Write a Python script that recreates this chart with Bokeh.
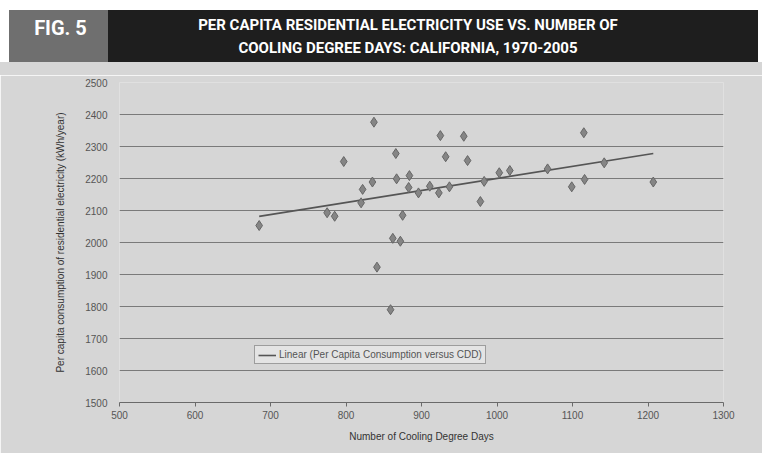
import numpy as np
from bokeh.plotting import figure
from bokeh.layouts import column
from bokeh.models import Range1d, Legend, LegendItem, SingleIntervalTicker, Div
from bokeh.embed import file_html
from bokeh.resources import INLINE

# Data
cdd = [685, 837, 925, 956, 866, 797, 932, 961, 1003, 1017, 867, 884, 835, 822,
       883, 896, 911, 923, 937, 983, 978, 820, 775, 785, 875, 862, 872, 841,
       859, 1115, 1067, 1142, 1116, 1099, 1207]
use = [2053, 2376, 2334, 2332, 2278, 2253, 2268, 2256, 2218, 2225, 2199, 2209,
       2189, 2166, 2172, 2155, 2176, 2155, 2174, 2191, 2128, 2124, 2093, 2082,
       2085, 2013, 2004, 1923, 1790, 2343, 2230, 2249, 2197, 2174, 2189]

title_line1 = "PER CAPITA RESIDENTIAL ELECTRICITY USE VS. NUMBER OF"
title_line2 = "COOLING DEGREE DAYS: CALIFORNIA, 1970-2005"
fig_label = "FIG. 5"
x_label = "Number of Cooling Degree Days"
y_label = "Per capita consumption of residential electricity (kWh/year)"
legend_label = "Linear (Per Capita Consumption versus CDD)"

BG = "#d6d6d6"
W = 762
BH = 75
H = 378
L, R, T, B = 119, 39, 7, 51

banner_html = f"""
<div style="position:relative;width:{W}px;height:{BH}px;background:white;margin:0;padding:0;">
  <div style="position:absolute;left:0;top:62px;width:{W}px;height:{BH - 62}px;background:{BG};"></div>
  <div style="position:absolute;left:9px;top:10px;width:99px;height:52px;background:#6f6f6f;
       color:white;font-family:Roboto;font-weight:bold;font-size:20px;
       display:flex;align-items:center;justify-content:center;padding-bottom:16px;padding-left:4px;box-sizing:border-box;">{fig_label}</div>
  <div style="position:absolute;left:108px;top:10px;width:650px;height:52px;background:#1e1e1e;
       color:white;font-family:Roboto;font-weight:bold;font-size:15px;line-height:23px;
       display:flex;flex-direction:column;align-items:center;justify-content:center;padding-right:50px;padding-top:2px;box-sizing:border-box;">
    <div>{title_line1}</div><div>{title_line2}</div></div>
</div>
"""
banner = Div(text=banner_html, width=W, height=BH, margin=0,
             styles={"padding": "0", "margin": "0"})

p = figure(width=W, height=H, output_backend="svg", toolbar_location=None,
           x_range=Range1d(500, 1300), y_range=Range1d(1500, 2500),
           min_border_left=L, min_border_right=R, min_border_top=T,
           min_border_bottom=B,
           background_fill_color=BG, border_fill_color=BG)
p.outline_line_color = None

p.xgrid.visible = False
p.ygrid.grid_line_color = "#7a7a7a"
p.ygrid.grid_line_width = 1
p.xaxis.ticker = SingleIntervalTicker(interval=100)
p.yaxis.ticker = SingleIntervalTicker(interval=100)
p.xaxis.minor_tick_line_color = None
p.yaxis.minor_tick_line_color = None
p.yaxis.axis_line_color = None
p.yaxis.major_tick_line_color = None
p.xaxis.axis_line_color = "#6a6a6a"
p.xaxis.major_tick_line_color = "#6a6a6a"
p.xaxis.major_tick_in = 0
p.xaxis.major_tick_out = 4
for ax in (p.xaxis, p.yaxis):
    ax.major_label_text_font = "Liberation Sans"
    ax.major_label_text_font_size = "10px"
    ax.major_label_text_color = "#555555"
    ax.axis_label_text_font = "Liberation Sans"
    ax.axis_label_text_font_style = "normal"
    ax.axis_label_text_color = "#333333"
p.xaxis.axis_label = x_label
p.xaxis.axis_label_text_font_size = "10px"
p.xaxis.axis_label_standoff = 9
p.xaxis.major_label_standoff = 4
p.yaxis.axis_label = y_label
p.yaxis.axis_label_text_font_size = "10px"
p.yaxis.axis_label_standoff = 16
p.yaxis.major_label_standoff = 6

# trend line from least squares fit
slope, intercept = np.polyfit(cdd, use, 1)
tx = [min(cdd), max(cdd)]
ty = [slope * v + intercept for v in tx]
trend = p.line(tx, ty, line_color="#555555", line_width=1.6)

p.scatter(cdd, use, marker="diamond", size=10, fill_color="#858585",
          line_color="#666666", line_width=1)

legend = Legend(items=[LegendItem(label=legend_label, renderers=[trend])],
                location=(135, 38), orientation="horizontal",
                background_fill_color="#e4e4e4", background_fill_alpha=1,
                border_line_color="#555555", border_line_width=1,
                label_text_font="Liberation Sans", label_text_font_size="10px",
                label_text_color="#555555", glyph_width=18, glyph_height=10,
                padding=3, margin=0, spacing=0, label_standoff=3)
p.add_layout(legend, "center")

layout = column(banner, p, spacing=0)
open("out.html", "w").write(file_html(layout, INLINE))
